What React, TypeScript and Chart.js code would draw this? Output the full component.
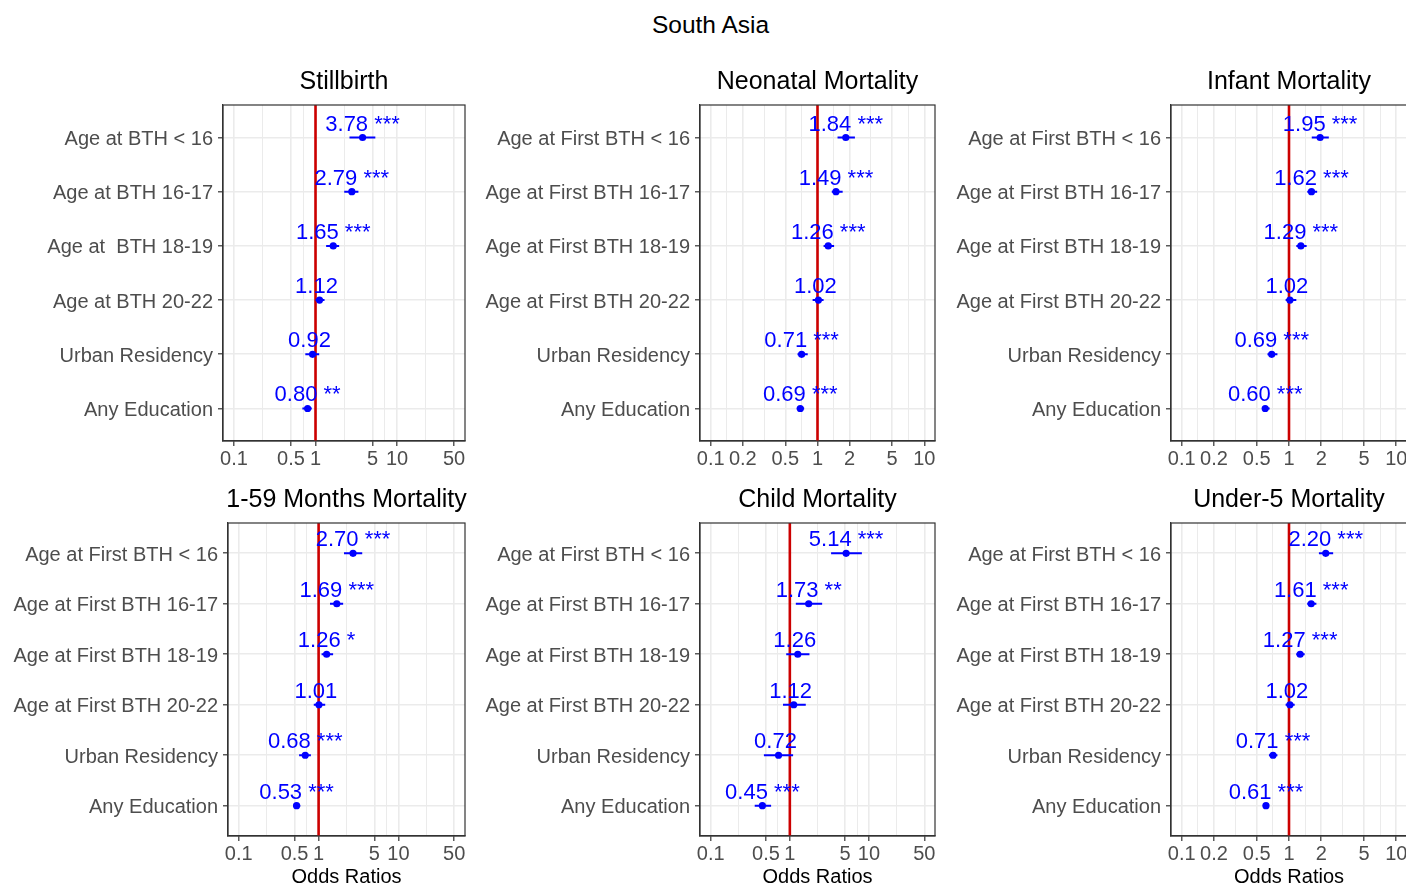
import React, { useEffect, useRef } from 'react';
import { Chart, registerables } from 'chart.js';

Chart.register(...registerables);

const FONT = '"Liberation Sans", Arial, Helvetica, sans-serif';
Chart.defaults.font.family = FONT;

// ---------- data ----------
const catsShort = ['Age at BTH < 16', 'Age at BTH 16-17', 'Age at  BTH 18-19', 'Age at BTH 20-22', 'Urban Residency', 'Any Education'];
const catsFirst = ['Age at First BTH < 16', 'Age at First BTH 16-17', 'Age at First BTH 18-19', 'Age at First BTH 20-22', 'Urban Residency', 'Any Education'];

const ticksWide = [0.1, 0.5, 1, 5, 10, 50];
const ticksNarrow = [0.1, 0.2, 0.5, 1, 2, 5, 10];

const stillbirthOR = [3.78, 2.79, 1.65, 1.12, 0.92, 0.8];
const stillbirthLow = [2.61, 2.25, 1.35, 1.0, 0.75, 0.69];
const stillbirthHigh = [5.42, 3.36, 1.95, 1.29, 1.11, 0.9];
const stillbirthSig = ['***', '***', '***', '', '', '**'];

const neonatalOR = [1.84, 1.49, 1.26, 1.02, 0.71, 0.69];
const neonatalLow = [1.54, 1.36, 1.14, 0.9, 0.65, 0.64];
const neonatalHigh = [2.24, 1.72, 1.43, 1.14, 0.81, 0.75];
const neonatalSig = ['***', '***', '***', '', '***', '***'];

const infantOR = [1.95, 1.62, 1.29, 1.02, 0.69, 0.6];
const infantLow = [1.63, 1.48, 1.17, 0.93, 0.63, 0.57];
const infantHigh = [2.35, 1.83, 1.46, 1.17, 0.78, 0.66];
const infantSig = ['***', '***', '***', '', '***', '***'];

const postOR = [2.7, 1.69, 1.26, 1.01, 0.68, 0.53];
const postLow = [2.08, 1.39, 1.09, 0.87, 0.57, 0.48];
const postHigh = [3.52, 2.03, 1.52, 1.21, 0.8, 0.59];
const postSig = ['***', '***', '*', '', '***', '***'];

const childOR = [5.14, 1.73, 1.26, 1.12, 0.72, 0.45];
const childLow = [3.32, 1.19, 0.9, 0.82, 0.47, 0.36];
const childHigh = [8.13, 2.56, 1.77, 1.59, 1.1, 0.58];
const childSig = ['***', '**', '', '', '', '***'];

const under5OR = [2.2, 1.61, 1.27, 1.02, 0.71, 0.61];
const under5Low = [1.9, 1.48, 1.17, 0.93, 0.65, 0.57];
const under5High = [2.58, 1.8, 1.4, 1.13, 0.78, 0.65];
const under5Sig = ['***', '***', '***', '', '***', '***'];

// ---------- panel ----------
type PanelProps = {
  title: string;
  cats: string[];
  or: number[];
  low: number[];
  high: number[];
  sig: string[];
  majors: number[];
  px: number;
  py: number;
  pw: number;
  ph: number;
  yw: number;
  xh: number;
  xTitle: boolean;
};

const TOP_PAD = 50;
const RIGHT_PAD = 12;

function expandLog(majors: number[]) {
  const a = Math.log10(majors[0]);
  const b = Math.log10(majors[majors.length - 1]);
  const e = (b - a) * 0.05;
  return [Math.pow(10, a - e), Math.pow(10, b + e)];
}

function Panel(p: PanelProps) {
  const ref = useRef<HTMLCanvasElement | null>(null);
  const width = p.yw + p.pw + RIGHT_PAD;
  const height = TOP_PAD + p.ph + p.xh;

  useEffect(() => {
    if (!ref.current) return;
    const [xMin, xMax] = expandLog(p.majors);
    const allTicks: { value: number; major: boolean }[] = [];
    p.majors.forEach((m, i) => {
      allTicks.push({ value: m, major: true });
      if (i < p.majors.length - 1) allTicks.push({ value: Math.sqrt(m * p.majors[i + 1]), major: false });
    });

    const n = p.cats.length;
    const pointData = p.or.map((v, i) => ({ x: v, y: i + 1 }));
    const barData: { x: number; y: number | null }[] = [];
    p.low.forEach((l, i) => {
      barData.push({ x: l, y: i + 1 }, { x: p.high[i], y: i + 1 }, { x: p.high[i], y: null });
    });
    const vline = [
      { x: 1, y: 0.4 },
      { x: 1, y: n + 0.6 },
    ];

    const labelPlugin = {
      id: 'orLabels',
      afterDatasetsDraw(chart: any) {
        const ctx = chart.ctx;
        const xs = chart.scales.x;
        const ys = chart.scales.y;
        ctx.save();
        ctx.font = `22px ${FONT}`;
        ctx.fillStyle = '#0000ff';
        ctx.textAlign = 'center';
        ctx.textBaseline = 'alphabetic';
        p.or.forEach((v, i) => {
          const x = xs.getPixelForValue(v);
          const y = ys.getPixelForValue(i + 1) - 7;
          ctx.fillText(`${v.toFixed(2)} ${p.sig[i]}`, x, y);
        });
        ctx.restore();
      },
    };
    const framePlugin = {
      id: 'frameAndTitle',
      afterDraw(chart: any) {
        const ctx = chart.ctx;
        const a = chart.chartArea;
        ctx.save();
        ctx.strokeStyle = '#333333';
        ctx.lineWidth = 1.2;
        ctx.strokeRect(a.left, a.top, a.right - a.left, a.bottom - a.top);
        ctx.font = `25px ${FONT}`;
        ctx.fillStyle = '#000000';
        ctx.textAlign = 'center';
        ctx.textBaseline = 'middle';
        ctx.fillText(p.title, (a.left + a.right) / 2, a.top - 23);
        ctx.restore();
      },
    };

    const chart = new Chart(ref.current, {
      type: 'scatter',
      data: {
        datasets: [
          {
            type: 'scatter',
            data: pointData,
            pointRadius: 3.6,
            pointBackgroundColor: '#0000ff',
            pointBorderColor: '#0000ff',
            pointBorderWidth: 0,
            order: 0,
          } as any,
          {
            type: 'line',
            data: barData,
            borderColor: '#0000ff',
            borderWidth: 2,
            pointRadius: 0,
            spanGaps: false,
            fill: false,
            order: 1,
          } as any,
          {
            type: 'line',
            data: vline,
            borderColor: '#cc0000',
            borderWidth: 2.6,
            pointRadius: 0,
            fill: false,
            order: 2,
          } as any,
        ],
      },
      options: {
        animation: false,
        responsive: false,
        devicePixelRatio: 1,
        layout: { padding: { top: TOP_PAD, right: RIGHT_PAD, left: 0, bottom: 0 } },
        plugins: { legend: { display: false }, tooltip: { enabled: false }, title: { display: false } },
        scales: {
          x: {
            type: 'logarithmic',
            min: xMin,
            max: xMax,
            bounds: 'data',
            afterBuildTicks: (scale: any) => {
              scale.ticks = allTicks.map((t) => ({ value: t.value, major: t.major }));
            },
            afterFit: (scale: any) => {
              scale.height = p.xh;
            },
            ticks: {
              autoSkip: false,
              maxRotation: 0,
              minRotation: 0,
              padding: 1.5,
              color: '#4d4d4d',
              font: { size: 20, family: FONT },
              callback: (v: any) => (p.majors.includes(Number(v)) ? String(v) : ''),
            },
            grid: {
              color: '#ebebeb',
              lineWidth: (ctx: any) => (ctx.tick && ctx.tick.major ? 1.6 : 1),
              tickLength: 5,
              tickWidth: 1.2,
              tickColor: (ctx: any) => (ctx.tick && ctx.tick.major ? '#333333' : 'rgba(0,0,0,0)'),
            },
            border: { display: true, color: '#333333', width: 1.2 },
            title: {
              display: p.xTitle,
              text: 'Odds Ratios',
              color: '#000000',
              font: { size: 20, family: FONT },
              padding: { top: 0, bottom: 2 },
            },
          },
          y: {
            type: 'linear',
            min: 0.4,
            max: n + 0.6,
            reverse: true,
            afterBuildTicks: (scale: any) => {
              scale.ticks = p.cats.map((_, i) => ({ value: i + 1 }));
            },
            afterFit: (scale: any) => {
              scale.width = p.yw;
            },
            ticks: {
              autoSkip: false,
              padding: 5,
              labelOffset: 2,
              color: '#4d4d4d',
              font: { size: 20, family: FONT },
              callback: (v: any) => p.cats[Math.round(Number(v)) - 1] ?? '',
            },
            grid: {
              color: '#ebebeb',
              lineWidth: 1.6,
              tickLength: 5,
              tickWidth: 1.2,
              tickColor: '#333333',
            },
            border: { display: true, color: '#333333', width: 1.2 },
          },
        },
      } as any,
      plugins: [labelPlugin, framePlugin],
    });
    return () => chart.destroy();
  }, []);

  return (
    <canvas
      ref={ref}
      width={width}
      height={height}
      style={{
        position: 'absolute',
        left: p.px - p.yw,
        top: p.py - TOP_PAD,
        width,
        height,
      }}
    />
  );
}

export default function App() {
  return (
    <div
      style={{
        position: 'absolute',
        left: 0,
        top: 0,
        width: 1406,
        height: 885,
        overflow: 'hidden',
        background: '#ffffff',
        fontFamily: FONT,
      }}
    >
      <div
        style={{
          position: 'absolute',
          left: 0,
          top: 10,
          width: 1421,
          height: 30,
          lineHeight: '30px',
          textAlign: 'center',
          fontSize: 24.5,
          color: '#000',
        }}
      >
        South Asia
      </div>
      <Panel title="Stillbirth" cats={catsShort} or={stillbirthOR} low={stillbirthLow} high={stillbirthHigh} sig={stillbirthSig} majors={ticksWide} px={223} py={105} pw={242} ph={336} yw={223} xh={40} xTitle={false} />
      <Panel title="Neonatal Mortality" cats={catsFirst} or={neonatalOR} low={neonatalLow} high={neonatalHigh} sig={neonatalSig} majors={ticksNarrow} px={700} py={105} pw={235} ph={336} yw={230} xh={40} xTitle={false} />
      <Panel title="Infant Mortality" cats={catsFirst} or={infantOR} low={infantLow} high={infantHigh} sig={infantSig} majors={ticksNarrow} px={1171} py={105} pw={236} ph={336} yw={230} xh={40} xTitle={false} />
      <Panel title="1-59 Months Mortality" cats={catsFirst} or={postOR} low={postLow} high={postHigh} sig={postSig} majors={ticksWide} px={228} py={523} pw={237} ph={313} yw={228} xh={55} xTitle={true} />
      <Panel title="Child Mortality" cats={catsFirst} or={childOR} low={childLow} high={childHigh} sig={childSig} majors={ticksWide} px={700} py={523} pw={235} ph={313} yw={230} xh={55} xTitle={true} />
      <Panel title="Under-5 Mortality" cats={catsFirst} or={under5OR} low={under5Low} high={under5High} sig={under5Sig} majors={ticksNarrow} px={1171} py={523} pw={236} ph={313} yw={230} xh={55} xTitle={true} />
    </div>
  );
}
